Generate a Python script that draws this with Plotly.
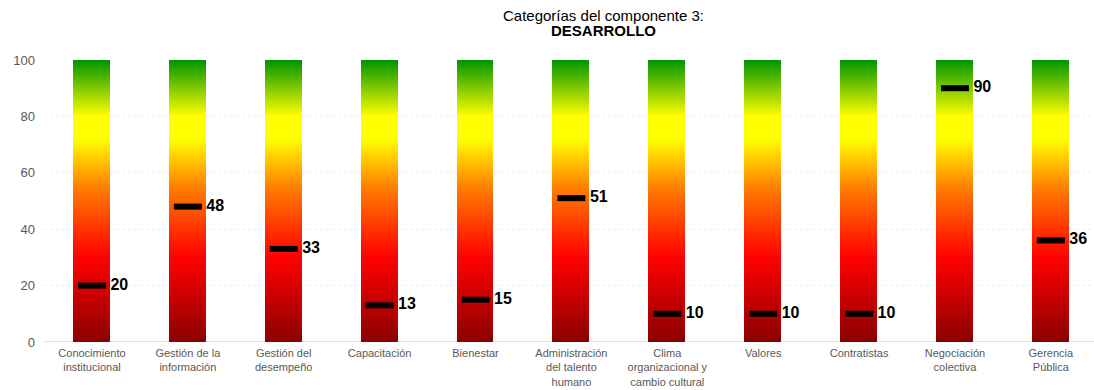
import numpy as np
import plotly.graph_objects as go

# Categories of component 3 and their scores (0-100)
categories = [
    "Conocimiento<br>institucional",
    "Gestión de la<br>información",
    "Gestión del<br>desempeño",
    "Capacitación",
    "Bienestar",
    "Administración<br>del talento<br>humano",
    "Clima<br>organizacional y<br>cambio cultural",
    "Valores",
    "Contratistas",
    "Negociación<br>colectiva",
    "Gerencia<br>Pública",
]
scores = [20, 48, 33, 13, 15, 51, 10, 10, 10, 90, 36]
y_ticks = [0, 20, 40, 60, 80, 100]

FONT = "Liberation Sans, Arial, sans-serif"

# Traffic-light scale from dark red (0) to green (100)
scale = [
    [0.00, "#8B0000"],
    [0.30, "#FF0000"],
    [0.55, "#FF8000"],
    [0.72, "#FFFF00"],
    [0.80, "#FFFF00"],
    [1.00, "#009400"],
]

# Gradient columns: one heatmap column per category, cells stacked 0..100
edges = np.linspace(0, 100, 201)
centres = (edges[:-1] + edges[1:]) / 2
z = np.repeat(centres[:, None], len(categories), axis=1)

fig = go.Figure()
fig.add_trace(go.Heatmap(
    x=categories,
    y=edges,
    z=z,
    zmin=0,
    zmax=100,
    colorscale=scale,
    showscale=False,
    xgap=59,
    ygap=0,
    hoverinfo="skip",
))

# Score markers
fig.add_trace(go.Scatter(
    x=categories,
    y=scores,
    mode="markers",
    marker=dict(symbol="line-ew", size=20, line=dict(color="black", width=6)),
    hoverinfo="skip",
    cliponaxis=False,
))

# Value labels, pushed to the right of each marker
fig.add_trace(go.Scatter(
    x=categories,
    y=scores,
    mode="markers+text",
    text=[str(v) for v in scores],
    textposition="middle right",
    marker=dict(size=28, color="rgba(0,0,0,0)"),
    textfont=dict(family=FONT, size=16, color="black", weight="bold"),
    hoverinfo="skip",
    cliponaxis=False,
))

MARGIN_T, MARGIN_B, HEIGHT = 60, 48, 390
plot_h = HEIGHT - MARGIN_T - MARGIN_B

fig.update_layout(
    width=1094,
    height=HEIGHT,
    margin=dict(l=44, r=0, t=MARGIN_T, b=MARGIN_B),
    paper_bgcolor="white",
    plot_bgcolor="white",
    showlegend=False,
    font=dict(family=FONT, color="#595959"),
)

# Two-line heading, placed by pixel row from the top of the page
def row_to_paper(px):
    return (HEIGHT - MARGIN_B - px) / plot_h

heading_x = 0.533
fig.add_annotation(
    text="Categorías del componente 3:",
    xref="paper", yref="paper", x=heading_x, y=row_to_paper(15),
    xanchor="center", yanchor="middle", showarrow=False,
    font=dict(family=FONT, size=15, color="black"),
)
fig.add_annotation(
    text="<b>DESARROLLO</b>",
    xref="paper", yref="paper", x=heading_x, y=row_to_paper(31),
    xanchor="center", yanchor="middle", showarrow=False,
    font=dict(family=FONT, size=15, color="black"),
)

fig.update_xaxes(
    type="category",
    range=[-0.5, 10.45],
    automargin=False,
    showgrid=False,
    showline=False,
    zeroline=False,
    ticks="",
    ticklabelstandoff=3,
    tickfont=dict(size=11, color="#595959"),
)
fig.update_yaxes(
    range=[0, 100],
    tickvals=y_ticks,
    automargin=False,
    showgrid=True,
    gridcolor="#EDEDED",
    griddash="dot",
    zeroline=False,
    showline=False,
    ticks="",
    ticklabelstandoff=8,
    tickfont=dict(size=13, color="#595959"),
)

# Baseline under the columns
fig.add_hline(y=0, line=dict(color="#D9D9D9", width=1.5), layer="below")

fig.write_html("out.html")
